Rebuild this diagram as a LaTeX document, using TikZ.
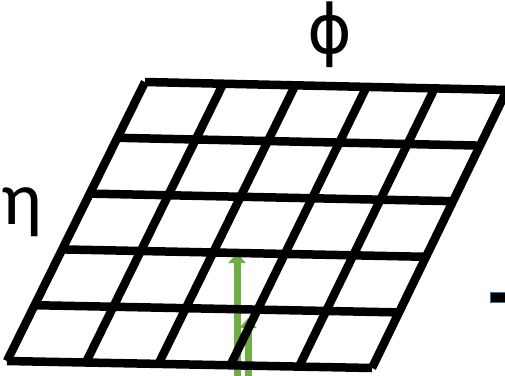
\documentclass[tikz,border=0pt]{standalone}
\usepackage{fontspec}
\setmainfont{Carlito}
\newfontfamily\phifont{DejaVu Sans}
\usetikzlibrary{arrows.meta,calc}
\definecolor{gridgreen}{HTML}{70AD47}
\definecolor{dashblue}{HTML}{41719C}
\tikzset{
  gridline/.style={line width=8.5pt, line cap=butt, black},
  greenarrow/.style={line width=7pt, gridgreen, -{Triangle[width=17pt,length=10pt]}},
  biglabel/.style={font=\fontsize{76}{80}\selectfont, inner sep=0pt, anchor=center},
}
\begin{document}
\begin{tikzpicture}[x=1pt,y=-1pt]
\useasboundingbox (0,0) rectangle (505,375);
\clip (0,0) rectangle (505,375);
% corners of the grid
\coordinate (TL) at (145,82);
\coordinate (TR) at (507,90);
\coordinate (BL) at (7,361);
\coordinate (BR) at (372,368);
% green arrows (behind grid)
\coordinate (a1s) at (237,380);
\coordinate (a1e) at (237,253);
\coordinate (a2s) at (248,380);
\coordinate (a2e) at (248,318);
\draw[greenarrow] (a1s) -- (a1e);
\draw[greenarrow] (a2s) -- (a2e);
% horizontal lines
\foreach \t in {0,0.2,0.4,0.6,0.8,1}{
  \draw[gridline] ($(TL)!\t!(BL)$) -- ($(TR)!\t!(BR)$);
}
% slanted lines
\foreach \u in {0,0.216,0.415,0.612,0.80,1}{
  \draw[gridline] ($(TL)!\u!(TR)$) -- ($(BL)!\u!(BR)$);
}
% labels
\node[font=\phifont\fontsize{68}{72}\selectfont, inner sep=0pt] (phi) at (330,35) {ϕ};
\node[biglabel] (eta) at (22,212) {η};
% blue dash at the right edge
\draw[dashblue, line width=1.8pt, fill=black] (490.5,292.5) rectangle (512,302.5);
\end{tikzpicture}
\end{document}
